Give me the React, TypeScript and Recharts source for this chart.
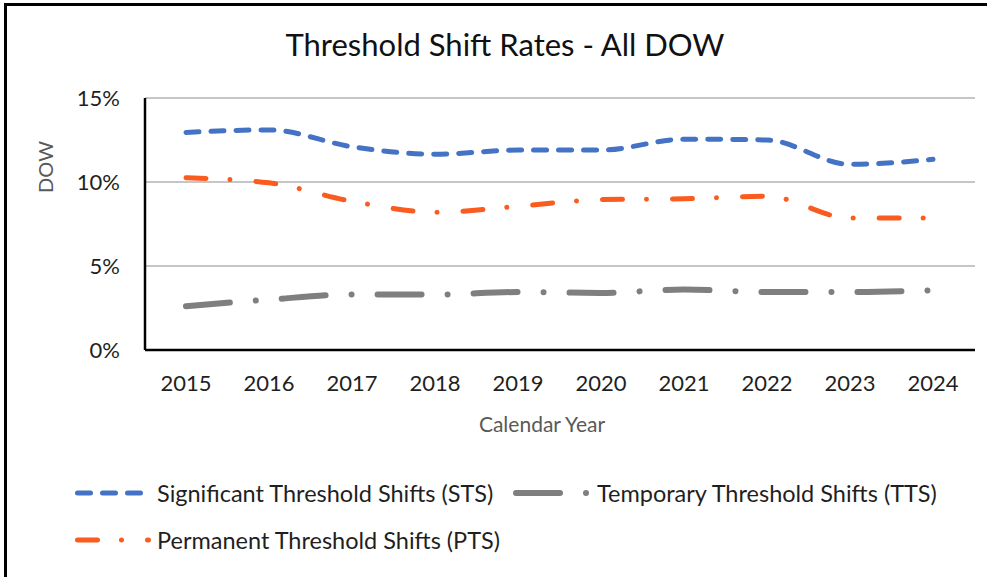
import React from 'react';
import { LineChart, Line, XAxis, YAxis, CartesianGrid } from 'recharts';

const years = ['2015', '2016', '2017', '2018', '2019', '2020', '2021', '2022', '2023', '2024'];
const stsValues = [12.95, 13.1, 12.1, 11.65, 11.9, 11.9, 12.55, 12.5, 11.05, 11.35];
const ttsValues = [2.6, 3.0, 3.3, 3.3, 3.45, 3.4, 3.6, 3.45, 3.45, 3.55];
const ptsValues = [10.25, 9.95, 8.85, 8.2, 8.55, 8.95, 9.0, 9.15, 7.85, 7.85];
const yTicks = [0, 5, 10, 15];

const title = 'Threshold Shift Rates - All DOW';
const xTitle = 'Calendar Year';
const yTitle = 'DOW';

const series = [
  { key: 'sts', name: 'Significant Threshold Shifts (STS)', color: '#4472C4', width: 5, dash: '13 12', values: stsValues },
  { key: 'tts', name: 'Temporary Threshold Shifts (TTS)', color: '#7F7F7F', width: 6, dash: '44 26 0.01 26', values: ttsValues },
  { key: 'pts', name: 'Permanent Threshold Shifts (PTS)', color: '#FA5B1E', width: 5, dash: '20 24 0.01 26', values: ptsValues },
];

const data = years.map((y, i) => {
  const row: Record<string, string | number> = { year: y };
  series.forEach((s) => {
    row[s.key] = s.values[i];
  });
  return row;
});

const FONT = 'Lato, "Open Sans", sans-serif';

function YLabel(props: any) {
  const vb = props.viewBox || { x: 0, y: 0, width: 0, height: 0 };
  const cx = vb.x + 45;
  const cy = vb.y + 69;
  return (
    <text
      x={cx}
      y={cy}
      transform={`rotate(-90 ${cx} ${cy})`}
      textAnchor="middle"
      dominantBaseline="central"
      fill="#595959"
      fontSize={20}
      fontFamily={FONT}
    >
      {yTitle}
    </text>
  );
}

function XLabel(props: any) {
  const vb = props.viewBox || { x: 0, y: 0, width: 0, height: 0 };
  return (
    <text
      x={vb.x + vb.width / 2 - 18}
      y={vb.y + 73}
      textAnchor="middle"
      dominantBaseline="central"
      fill="#595959"
      fontSize={21}
      fontFamily={FONT}
    >
      {xTitle}
    </text>
  );
}

const legendItems = [
  { s: series[0], x1: 77.5, x2: 140.5, y: 493, tx: 157 },
  { s: series[1], x1: 516, x2: 588, y: 493, tx: 597 },
  { s: series[2], x1: 77.5, x2: 148.5, y: 540, tx: 157 },
];

export default function App() {
  return (
    <div
      style={{
        position: 'absolute',
        left: 0,
        top: 0,
        width: 987,
        height: 577,
        background: '#fff',
        overflow: 'hidden',
        fontFamily: FONT,
      }}
    >
      <div
        style={{
          position: 'absolute',
          left: 4,
          top: 3,
          right: -10,
          bottom: -10,
          borderTop: '3px solid #000',
          borderLeft: '3px solid #000',
        }}
      />
      <div
        style={{
          position: 'absolute',
          left: 205,
          top: 23,
          width: 600,
          textAlign: 'center',
          fontSize: 31,
          lineHeight: '42px',
          color: '#111',
        }}
      >
        {title}
      </div>
      <div style={{ position: 'absolute', left: 0, top: 0 }}>
        <LineChart width={987} height={577} data={data} margin={{ top: 98, right: 12, bottom: 167, left: 0 }}>
          <CartesianGrid vertical={false} stroke="#C6C6C6" strokeWidth={2} />
          <XAxis
            dataKey="year"
            padding={{ left: 41, right: 42 }}
            height={60}
            tickLine={false}
            tickSize={6}
            tickMargin={19}
            axisLine={{ stroke: '#000', strokeWidth: 2.5 }}
            tick={{ fill: '#1F1F1F', fontSize: 22, fontFamily: FONT }}
            interval={0}
            label={<XLabel />}
          />
          <YAxis
            width={145}
            domain={[0, 15]}
            ticks={yTicks}
            tickFormatter={(v: number) => `${v}%`}
            tickLine={false}
            tickSize={6}
            tickMargin={19}
            axisLine={{ stroke: '#000', strokeWidth: 2.5 }}
            tick={{ fill: '#1F1F1F', fontSize: 22, fontFamily: FONT }}
            label={<YLabel />}
          />
          {series.map((s) => (
            <Line
              key={s.key}
              type="monotone"
              dataKey={s.key}
              name={s.name}
              stroke={s.color}
              strokeWidth={s.width}
              strokeDasharray={s.dash}
              strokeLinecap="round"
              dot={false}
              activeDot={false}
              isAnimationActive={false}
            />
          ))}
        </LineChart>
      </div>
      <svg width={987} height={577} style={{ position: 'absolute', left: 0, top: 0, pointerEvents: 'none' }}>
        {legendItems.map((it) => (
          <g key={it.s.key}>
            <line
              x1={it.x1}
              x2={it.x2}
              y1={it.y}
              y2={it.y}
              stroke={it.s.color}
              strokeWidth={it.s.width}
              strokeDasharray={it.s.dash}
              strokeLinecap="round"
            />
            <text x={it.tx} y={it.y} dominantBaseline="central" fontSize={23.5} fill="#1F1F1F" fontFamily={FONT}>
              {it.s.name}
            </text>
          </g>
        ))}
      </svg>
    </div>
  );
}
